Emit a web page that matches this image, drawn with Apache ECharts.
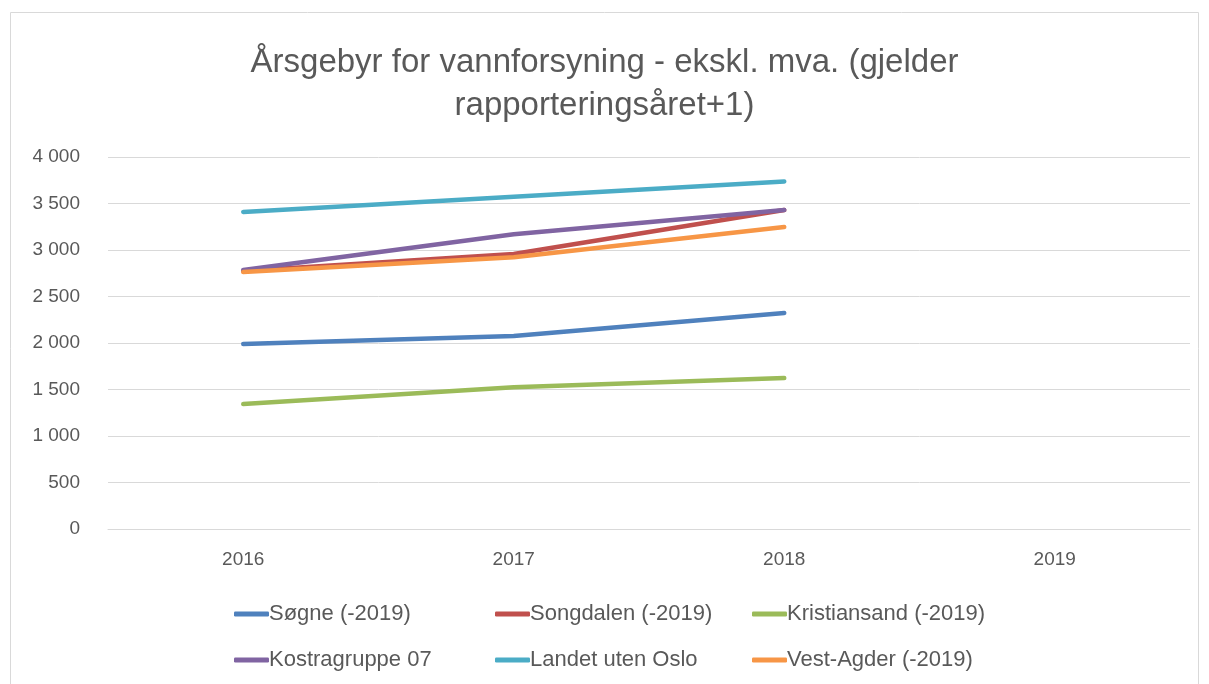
<!DOCTYPE html>
<html>
<head>
<meta charset="utf-8">
<script src="https://cdn.jsdelivr.net/npm/echarts@6/dist/echarts.min.js"></script>
<style>html,body{margin:0;padding:0;background:#fff}#chart{width:1209px;height:684px}</style>
</head>
<body>
<div id="chart"></div>
<script>
// data
const years = ['2016', '2017', '2018', '2019'];
const seriesNames = ['Søgne (-2019)', 'Songdalen (-2019)', 'Kristiansand (-2019)', 'Kostragruppe 07', 'Landet uten Oslo', 'Vest-Agder (-2019)'];
const sogne = [1989, 2075, 2323, null];
const songdalen = [2775, 2957, 3430, null];
const kristiansand = [1344, 1523, 1624, null];
const kostra07 = [2785, 3170, 3430, null];
const landet = [3409, 3573, 3737, null];
const vestAgder = [2763, 2921, 3247, null];
const yTicks = [0, 500, 1000, 1500, 2000, 2500, 3000, 3500, 4000];

const colors = ['#4F81BD', '#C0504D', '#9BBB59', '#8064A2', '#4BACC6', '#F79646'];
const values = [sogne, songdalen, kristiansand, kostra07, landet, vestAgder];
const font = 'Liberation Sans';
const txt = '#595959';

// legend: one component per item so the columns line up like in Excel
const legendPos = [[229, 598], [490, 598], [747, 598], [229, 644], [490, 644], [747, 644]];
const legends = seriesNames.map((n, i) => ({
  data: [n],
  left: legendPos[i][0],
  top: legendPos[i][1],
  icon: 'roundRect',
  itemWidth: 35,
  itemHeight: 5,
  itemGap: 0,
  textStyle: { fontFamily: font, fontSize: 22, color: txt, padding: [0, 0, 0, -5] }
}));

const chart = echarts.init(document.getElementById('chart'));
chart.setOption({
  animation: false,
  color: colors,
  title: {
    text: 'Årsgebyr for vannforsyning - ekskl. mva. (gjelder\nrapporteringsåret+1)',
    left: 'center',
    top: 36,
    textStyle: { fontFamily: font, fontSize: 33, fontWeight: 'normal', color: txt, lineHeight: 43 }
  },
  graphic: [{
    type: 'rect',
    shape: { x: 10.5, y: 12.5, width: 1188, height: 700 },
    style: { fill: 'none', stroke: '#d9d9d9', lineWidth: 1 },
    silent: true
  }],
  legend: legends,
  grid: { left: 108, right: 19, top: 157, bottom: 155 },
  xAxis: {
    type: 'category',
    data: years,
    boundaryGap: true,
    axisLine: { lineStyle: { color: '#d9d9d9', width: 1 } },
    axisTick: { show: false },
    axisLabel: { fontFamily: font, fontSize: 19, color: txt, margin: 21 }
  },
  yAxis: {
    type: 'value',
    min: yTicks[0],
    max: yTicks[yTicks.length - 1],
    interval: 500,
    axisLine: { show: false },
    axisTick: { show: false },
    splitLine: { lineStyle: { color: '#d9d9d9', width: 1 } },
    axisLabel: {
      fontFamily: font, fontSize: 19, color: txt, margin: 28,
      formatter: v => String(v).replace(/\B(?=(\d{3})+(?!\d))/g, ' ')
    }
  },
  series: seriesNames.map((n, i) => ({
    name: n,
    type: 'line',
    data: values[i],
    showSymbol: false,
    symbol: 'none',
    lineStyle: { width: 4.5, cap: 'round', join: 'round' },
    z: 2 + i
  }))
});
</script>
</body>
</html>
